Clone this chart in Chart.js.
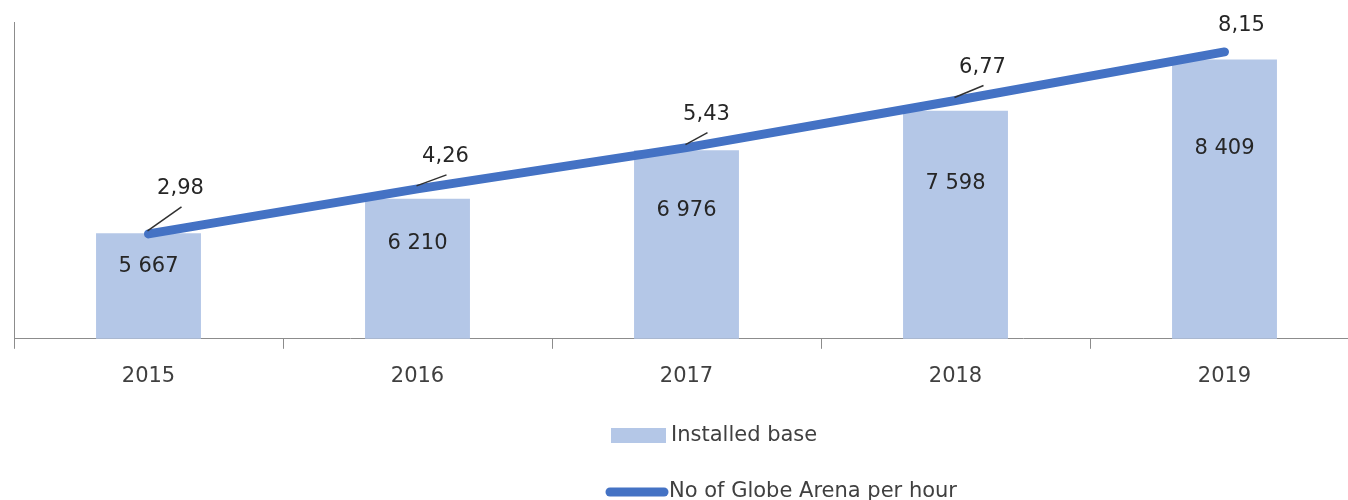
<!DOCTYPE html>
<html>
<head>
<meta charset="utf-8">
<script src="https://cdn.jsdelivr.net/npm/chart.js@4.4.1/dist/chart.umd.min.js"></script>
<style>
  html, body { margin: 0; padding: 0; background: #fff; overflow: hidden; }
  #wrap { position: relative; width: 1362px; height: 500px; }
</style>
</head>
<body>
<div id="wrap"><canvas id="chartBase"></canvas></div>
<script>
/* ---- dados ---- */
const anos = ["2015", "2016", "2017", "2018", "2019"];
const installedBase = [5667, 6210, 6976, 7598, 8409];
const arenasPorHora = [2.98, 4.26, 5.43, 6.77, 8.15];
const labelsBase = ["5 667", "6 210", "6 976", "7 598", "8 409"];
const labelsArena = ["2,98", "4,26", "5,43", "6,77", "8,15"];

/* posição dos rótulos da linha (deslocamento em px a partir do ponto) */
const offsetsArena = [[32, -45], [28, -32], [20, -33], [27, -33], [17, -26]];

const FONTE = "'DejaVu Sans', Verdana, sans-serif";
const COR_BARRA = "#b4c7e7";
const COR_LINHA = "#4472c4";
const COR_TEXTO = "#262626";
const COR_EIXO = "#8c8c8c";

/* rótulos de dados (barras + linha com linha-guia) */
const rotulosPlugin = {
  id: "rotulos",
  afterDatasetsDraw(chart) {
    const ctx = chart.ctx;
    const base = chart.chartArea.bottom;
    ctx.save();
    ctx.font = "21px " + FONTE;
    ctx.fillStyle = COR_TEXTO;
    ctx.textAlign = "center";
    ctx.textBaseline = "middle";

    const barMeta = chart.getDatasetMeta(1);
    barMeta.data.forEach((bar, i) => {
      const y = bar.y + (base - bar.y) * 0.32;
      ctx.fillText(labelsBase[i], bar.x, y);
    });

    const lineMeta = chart.getDatasetMeta(0);
    lineMeta.data.forEach((pt, i) => {
      const [dx, dy] = offsetsArena[i];
      const lx = pt.x + dx;
      const ly = pt.y + dy;
      if (Math.abs(dy) > 30) {
        ctx.beginPath();
        ctx.strokeStyle = "#303030";
        ctx.lineWidth = 1.5;
        ctx.moveTo(pt.x - 1, pt.y - 3);
        ctx.lineTo(lx + 1, ly + 18);
        ctx.stroke();
      }
      ctx.fillText(labelsArena[i], lx, ly);
    });
    ctx.restore();
  }
};

/* legenda em duas linhas, centralizada */
const legendaPlugin = {
  id: "legenda",
  afterDraw(chart) {
    const ctx = chart.ctx;
    ctx.save();
    ctx.font = "21px " + FONTE;
    ctx.textAlign = "left";
    ctx.textBaseline = "middle";

    ctx.fillStyle = COR_BARRA;
    ctx.fillRect(611, 428, 55, 15);
    ctx.fillStyle = "#404040";
    ctx.fillText(chart.data.datasets[1].label, 671, 436);

    ctx.beginPath();
    ctx.strokeStyle = COR_LINHA;
    ctx.lineWidth = 9;
    ctx.lineCap = "round";
    ctx.moveTo(610, 492);
    ctx.lineTo(664, 492);
    ctx.stroke();
    ctx.fillText(chart.data.datasets[0].label, 669, 492);
    ctx.restore();
  }
};

new Chart(document.getElementById("chartBase"), {
  type: "bar",
  data: {
    labels: anos,
    datasets: [
      {
        type: "line",
        label: "No of Globe Arena per hour",
        data: arenasPorHora,
        yAxisID: "y2",
        borderColor: COR_LINHA,
        borderWidth: 9,
        borderCapStyle: "round",
        borderJoinStyle: "round",
        pointRadius: 0,
        tension: 0,
        order: 0
      },
      {
        label: "Installed base",
        data: installedBase,
        yAxisID: "y",
        backgroundColor: COR_BARRA,
        barPercentage: 0.39,
        categoryPercentage: 1,
        order: 1
      }
    ]
  },
  options: {
    responsive: true,
    maintainAspectRatio: false,
    animation: false,
    layout: { padding: { left: 14, right: 3, top: 22, bottom: 96 } },
    plugins: {
      legend: { display: false },
      tooltip: { enabled: false }
    },
    scales: {
      x: {
        grid: {
          display: true,
          drawOnChartArea: false,
          drawTicks: true,
          tickLength: 10,
          color: COR_EIXO,
          offset: true
        },
        border: { display: true, color: COR_EIXO, width: 1 },
        ticks: {
          color: "#404040",
          padding: 15,
          font: { family: FONTE, size: 21 }
        }
      },
      y: {
        min: 4000,
        max: 9000,
        grid: { display: false, drawTicks: false },
        border: { display: true, color: COR_EIXO, width: 1 },
        ticks: { display: false }
      },
      y2: {
        display: false,
        min: 0,
        max: 9
      }
    }
  },
  plugins: [rotulosPlugin, legendaPlugin]
});
</script>
</body>
</html>
